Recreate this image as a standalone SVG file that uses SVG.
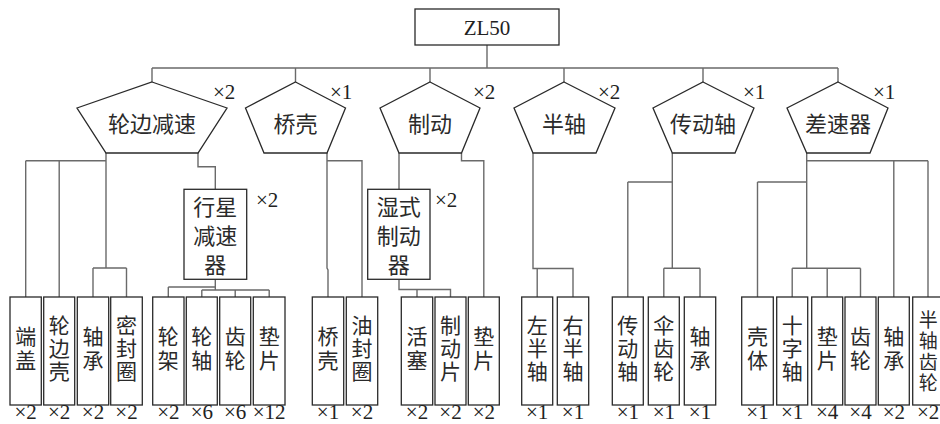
<svg xmlns="http://www.w3.org/2000/svg" width="940" height="424" viewBox="0 0 940 424">
<style>
.bg{fill:#fff}
.shape{fill:#fff;stroke:#2a2a2a;stroke-width:1.3}
.conn{fill:none;stroke:#6a6a6a;stroke-width:1.4}
.cn{font-family:"Noto Sans CJK SC","Noto Sans CJK JP",sans-serif;font-size:22px;fill:#2a2a2a;text-anchor:middle}
.v{font-size:21px}
.v4{font-size:19px}
.lat{font-family:"Liberation Serif","DejaVu Serif",serif;font-size:21px;fill:#222}
.mul{font-family:"Liberation Serif","DejaVu Serif",serif;font-size:21px;fill:#222;text-anchor:middle}
</style>
<rect class="bg" x="0" y="0" width="940" height="424"/>

<g id="connectors">
<path class="conn" d="M487,45V68M152,68H838M152,68V82M295.5,68V82M430,68V82M564,68V82M703,68V82M838,68V82"/>
<path class="conn" d="M106,153V268M25.7,160.7H106M25.7,160.7V297M59.2,160.7V297M93,268H126.5M93,268V297M126.5,268V297"/>
<path class="conn" d="M198,153V166.7H215.3V189.3"/>
<path class="conn" d="M215.3,279.3V290M168.3,287H215.3M168.3,287V297M201.8,290H269.2M201.8,290V297M235.2,290V297M269.2,290V297"/>
<path class="conn" d="M327,153V268L328,270V297M327,160.7H362V297"/>
<path class="conn" d="M399,153V189.3"/>
<path class="conn" d="M461.5,153V160.7H483.8V297"/>
<path class="conn" d="M399,279.3V289.5H450.5V297M417,289.5V297"/>
<path class="conn" d="M533,153V268.5H573V297M537.2,268.5V297"/>
<path class="conn" d="M672.3,153V268.3M627.8,182H672.3M627.8,182V297M663.8,268.3H700M663.8,268.3V297M700,268.3V297"/>
<path class="conn" d="M806.7,153V268.3M806.7,160.7H928M893.8,160.7V297M928,160.7V297M757.5,182H806.7M757.5,182V297M792.2,268.3H860.5M792.2,268.3V297M827.2,268.3V297M860.5,268.3V297"/>
</g>

<g id="root">
<rect class="shape" x="415" y="9" width="144" height="36"/>
<text class="lat" x="487" y="35" text-anchor="middle">ZL50</text>
</g>

<g id="lunbian">
<polygon class="shape" points="152,82 227,108 198,153 106,153 77,108"/>
<text class="cn" x="152" y="122" dominant-baseline="central">轮边减速</text>
<text class="lat" x="213" y="99">×2</text>
</g>
<g id="qiaoke">
<polygon class="shape" points="295.5,82 345.5,108 327,153 264,153 245.5,108"/>
<text class="cn" x="295.5" y="122" dominant-baseline="central">桥壳</text>
<text class="lat" x="330" y="99">×1</text>
</g>
<g id="zhidong">
<polygon class="shape" points="430,82 480,108 461.5,153 399,153 380,108"/>
<text class="cn" x="430" y="122" dominant-baseline="central">制动</text>
<text class="lat" x="473" y="99">×2</text>
</g>
<g id="banzhou">
<polygon class="shape" points="564,82 615,108 596,153 533,153 514,108"/>
<text class="cn" x="564" y="122" dominant-baseline="central">半轴</text>
<text class="lat" x="598" y="99">×2</text>
</g>
<g id="chuandongzhou">
<polygon class="shape" points="703,82 754,108 735,153 672.3,153 653,108"/>
<text class="cn" x="703" y="122" dominant-baseline="central">传动轴</text>
<text class="lat" x="743" y="99">×1</text>
</g>
<g id="chasuqi">
<polygon class="shape" points="838,82 888,108 870,153 806.7,153 787,108"/>
<text class="cn" x="838" y="122" dominant-baseline="central">差速器</text>
<text class="lat" x="873" y="99">×1</text>
</g>

<g id="xingxing">
<rect class="shape" x="184" y="189.3" width="62.7" height="90"/>
<text class="cn" dominant-baseline="central"><tspan x="215.3" y="205">行星</tspan><tspan x="215.3" y="234">减速</tspan><tspan x="215.3" y="263">器</tspan></text>
<text class="lat" x="256" y="207">×2</text>
</g>
<g id="shishi">
<rect class="shape" x="367.7" y="189.3" width="62.3" height="90"/>
<text class="cn" dominant-baseline="central"><tspan x="398.8" y="205">湿式</tspan><tspan x="398.8" y="234">制动</tspan><tspan x="398.8" y="263">器</tspan></text>
<text class="lat" x="435" y="207">×2</text>
</g>

<g id="b1"><rect class="shape" x="10" y="297" width="31.3" height="108"/><text class="cn v" dominant-baseline="central"><tspan x="25.7" y="335">端</tspan><tspan x="25.7" y="359">盖</tspan></text><text class="mul" x="25.7" y="419">×2</text></g>
<g id="b2"><rect class="shape" x="43.7" y="297" width="31" height="108"/><text class="cn v" dominant-baseline="central"><tspan x="59.2" y="324">轮</tspan><tspan x="59.2" y="347">边</tspan><tspan x="59.2" y="370">壳</tspan></text><text class="mul" x="59.2" y="419">×2</text></g>
<g id="b3"><rect class="shape" x="77.3" y="297" width="31.4" height="108"/><text class="cn v" dominant-baseline="central"><tspan x="93" y="335">轴</tspan><tspan x="93" y="359">承</tspan></text><text class="mul" x="93" y="419">×2</text></g>
<g id="b4"><rect class="shape" x="110.7" y="297" width="31.6" height="108"/><text class="cn v" dominant-baseline="central"><tspan x="126.5" y="324">密</tspan><tspan x="126.5" y="347">封</tspan><tspan x="126.5" y="370">圈</tspan></text><text class="mul" x="126.5" y="419">×2</text></g>
<g id="b5"><rect class="shape" x="152.7" y="297" width="31.3" height="108"/><text class="cn v" dominant-baseline="central"><tspan x="168.3" y="335">轮</tspan><tspan x="168.3" y="359">架</tspan></text><text class="mul" x="168.3" y="419">×2</text></g>
<g id="b6"><rect class="shape" x="186.3" y="297" width="31" height="108"/><text class="cn v" dominant-baseline="central"><tspan x="201.8" y="335">轮</tspan><tspan x="201.8" y="359">轴</tspan></text><text class="mul" x="201.8" y="419">×6</text></g>
<g id="b7"><rect class="shape" x="219.7" y="297" width="31" height="108"/><text class="cn v" dominant-baseline="central"><tspan x="235.2" y="335">齿</tspan><tspan x="235.2" y="359">轮</tspan></text><text class="mul" x="235.2" y="419">×6</text></g>
<g id="b8"><rect class="shape" x="253.3" y="297" width="31.7" height="108"/><text class="cn v" dominant-baseline="central"><tspan x="269.2" y="335">垫</tspan><tspan x="269.2" y="359">片</tspan></text><text class="mul" x="269.2" y="419">×12</text></g>
<g id="b9"><rect class="shape" x="312.3" y="297" width="31.4" height="108"/><text class="cn v" dominant-baseline="central"><tspan x="328" y="335">桥</tspan><tspan x="328" y="359">壳</tspan></text><text class="mul" x="328" y="419">×1</text></g>
<g id="b10"><rect class="shape" x="346.3" y="297" width="31.4" height="108"/><text class="cn v" dominant-baseline="central"><tspan x="362" y="324">油</tspan><tspan x="362" y="347">封</tspan><tspan x="362" y="370">圈</tspan></text><text class="mul" x="362" y="419">×2</text></g>
<g id="b11"><rect class="shape" x="401.3" y="297" width="31.4" height="108"/><text class="cn v" dominant-baseline="central"><tspan x="417" y="335">活</tspan><tspan x="417" y="359">塞</tspan></text><text class="mul" x="417" y="419">×2</text></g>
<g id="b12"><rect class="shape" x="435" y="297" width="31" height="108"/><text class="cn v" dominant-baseline="central"><tspan x="450.5" y="324">制</tspan><tspan x="450.5" y="347">动</tspan><tspan x="450.5" y="370">片</tspan></text><text class="mul" x="450.5" y="419">×2</text></g>
<g id="b13"><rect class="shape" x="468.3" y="297" width="31" height="108"/><text class="cn v" dominant-baseline="central"><tspan x="483.8" y="335">垫</tspan><tspan x="483.8" y="359">片</tspan></text><text class="mul" x="483.8" y="419">×2</text></g>
<g id="b14"><rect class="shape" x="521.7" y="297" width="31" height="108"/><text class="cn v" dominant-baseline="central"><tspan x="537.2" y="324">左</tspan><tspan x="537.2" y="347">半</tspan><tspan x="537.2" y="370">轴</tspan></text><text class="mul" x="537.2" y="419">×1</text></g>
<g id="b15"><rect class="shape" x="557.3" y="297" width="31.4" height="108"/><text class="cn v" dominant-baseline="central"><tspan x="573" y="324">右</tspan><tspan x="573" y="347">半</tspan><tspan x="573" y="370">轴</tspan></text><text class="mul" x="573" y="419">×1</text></g>
<g id="b16"><rect class="shape" x="612.3" y="297" width="31" height="108"/><text class="cn v" dominant-baseline="central"><tspan x="627.8" y="324">传</tspan><tspan x="627.8" y="347">动</tspan><tspan x="627.8" y="370">轴</tspan></text><text class="mul" x="627.8" y="419">×1</text></g>
<g id="b17"><rect class="shape" x="648.3" y="297" width="31" height="108"/><text class="cn v" dominant-baseline="central"><tspan x="663.8" y="324">伞</tspan><tspan x="663.8" y="347">齿</tspan><tspan x="663.8" y="370">轮</tspan></text><text class="mul" x="663.8" y="419">×1</text></g>
<g id="b18"><rect class="shape" x="684.3" y="297" width="31.4" height="108"/><text class="cn v" dominant-baseline="central"><tspan x="700" y="335">轴</tspan><tspan x="700" y="359">承</tspan></text><text class="mul" x="700" y="419">×1</text></g>
<g id="b19"><rect class="shape" x="741.7" y="297" width="31.6" height="108"/><text class="cn v" dominant-baseline="central"><tspan x="757.5" y="335">壳</tspan><tspan x="757.5" y="359">体</tspan></text><text class="mul" x="757.5" y="419">×1</text></g>
<g id="b20"><rect class="shape" x="776.7" y="297" width="31" height="108"/><text class="cn v" dominant-baseline="central"><tspan x="792.2" y="324">十</tspan><tspan x="792.2" y="347">字</tspan><tspan x="792.2" y="370">轴</tspan></text><text class="mul" x="792.2" y="419">×1</text></g>
<g id="b21"><rect class="shape" x="811.7" y="297" width="31" height="108"/><text class="cn v" dominant-baseline="central"><tspan x="827.2" y="335">垫</tspan><tspan x="827.2" y="359">片</tspan></text><text class="mul" x="827.2" y="419">×4</text></g>
<g id="b22"><rect class="shape" x="845" y="297" width="31" height="108"/><text class="cn v" dominant-baseline="central"><tspan x="860.5" y="335">齿</tspan><tspan x="860.5" y="359">轮</tspan></text><text class="mul" x="860.5" y="419">×4</text></g>
<g id="b23"><rect class="shape" x="878.3" y="297" width="31" height="108"/><text class="cn v" dominant-baseline="central"><tspan x="893.8" y="335">轴</tspan><tspan x="893.8" y="359">承</tspan></text><text class="mul" x="893.8" y="419">×2</text></g>
<g id="b24"><rect class="shape" x="912.7" y="297" width="31" height="108"/><text class="cn v4" dominant-baseline="central"><tspan x="928.2" y="318">半</tspan><tspan x="928.2" y="339">轴</tspan><tspan x="928.2" y="360">齿</tspan><tspan x="928.2" y="381">轮</tspan></text><text class="mul" x="928.2" y="419">×2</text></g>
</svg>
